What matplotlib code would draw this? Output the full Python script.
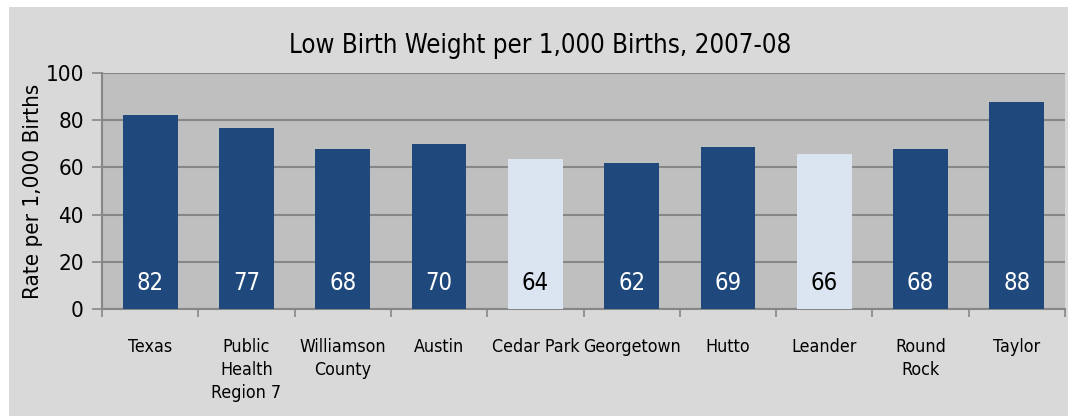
import matplotlib
matplotlib.use("Agg")
import matplotlib.pyplot as plt
from matplotlib.patches import Rectangle
from matplotlib import font_manager

categories = ["Texas", "Public\nHealth\nRegion 7", "Williamson\nCounty", "Austin",
              "Cedar Park", "Georgetown", "Hutto", "Leander", "Round\nRock", "Taylor"]
rates = [82.2, 76.8, 67.6, 70.0, 63.7, 61.9, 68.7, 65.8, 67.6, 87.6]
highlight = [False, False, False, False, True, False, False, True, False, False]
yticks = [0, 20, 40, 60, 80, 100]

DARK = "#1F497D"
LIGHT = "#DBE5F1"
PLOT_BG = "#BFBFBF"
FIG_BG = "#D9D9D9"
GRID = "#878787"

# a narrow face looks closest to the original; fall back if none is installed
fonts = font_manager.fontManager.ttflist
narrow = [f for f in fonts if f.name == "DejaVu Sans" and "condensed" in str(f.stretch)]
if any(f.name == "Liberation Sans Narrow" for f in fonts):
    FONT, STRETCH = "Liberation Sans Narrow", "normal"
elif narrow:
    FONT, STRETCH = "DejaVu Sans", "condensed"
else:
    FONT, STRETCH = "Liberation Sans", "normal"
plt.rcParams["font.family"] = [FONT, "DejaVu Sans"]
plt.rcParams["font.stretch"] = STRETCH

fig = plt.figure(figsize=(10.74, 4.18), dpi=100)
fig.patch.set_facecolor("white")
fig.patches.append(Rectangle((9 / 1074, 2 / 418), 1059 / 1074, 409 / 418,
                             transform=fig.transFigure, facecolor=FIG_BG,
                             edgecolor="none", zorder=-10))

ax = fig.add_axes([102 / 1074, 1 - 309 / 418, 963 / 1074, 236 / 418])
ax.set_facecolor(PLOT_BG)

x = list(range(len(categories)))
colors = [LIGHT if h else DARK for h in highlight]
ax.bar(x, rates, width=0.57, color=colors, zorder=3)

for xi, v, h in zip(x, rates, highlight):
    ax.text(xi, 11, f"{round(v)}", ha="center", va="center", fontsize=17,
            color="black" if h else "white", zorder=4)

ax.set_xlim(-0.5, len(categories) - 0.5)
ax.set_ylim(0, 100)
ax.set_yticks(yticks)
ax.tick_params(axis="y", labelsize=16, length=7, width=1.2, color=GRID, pad=6)
ax.yaxis.grid(True, color=GRID, linewidth=1.5, zorder=1)

ax.set_xticks(x)
ax.set_xticklabels(categories, fontsize=12.8, linespacing=1.35, va="top")
ax.set_xticks([i - 0.5 for i in range(len(categories) + 1)], minor=True)
ax.tick_params(axis="x", which="major", length=0, pad=21)
ax.tick_params(axis="x", which="minor", length=6, width=1.2, color=GRID)

for side in ["top", "right"]:
    ax.spines[side].set_visible(False)
for side in ["left", "bottom"]:
    ax.spines[side].set_color(GRID)
    ax.spines[side].set_linewidth(1.5)

ax.set_ylabel("Rate per 1,000 Births", fontsize=16, labelpad=2)
fig.text(540 / 1074, 1 - 46 / 418, "Low Birth Weight per 1,000 Births, 2007-08",
         ha="center", va="center", fontsize=18.5)

fig.savefig("out.png", dpi=100)
